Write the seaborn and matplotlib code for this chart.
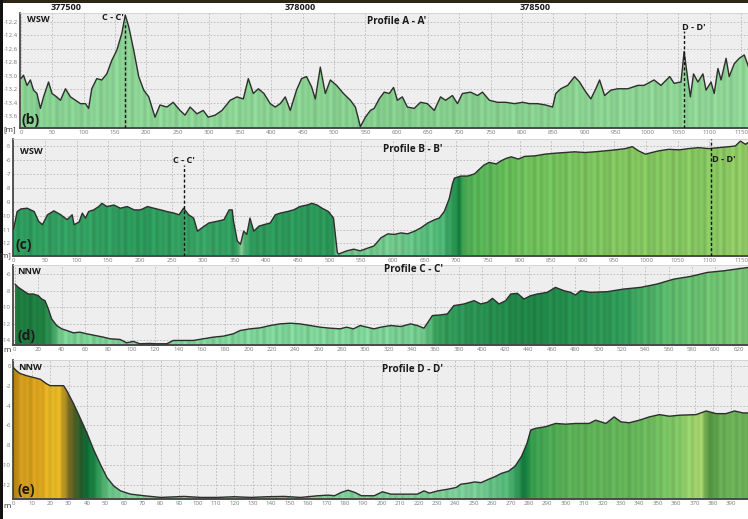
import numpy as np
import matplotlib
matplotlib.use('Agg')
import matplotlib.pyplot as plt
import seaborn as sns
from matplotlib.colors import to_rgb
from matplotlib.patches import Rectangle

sns.set_theme(style='white')
plt.rcParams['font.family'] = ['Open Sans', 'DejaVu Sans']
plt.rcParams['axes.unicode_minus'] = False

# ---------------- data ----------------
top_coords = ["377500", "378000", "378500"]

a_dist = [0, 4, 9.6, 15, 20, 25.5, 31, 36, 44, 49.5, 57, 63, 71, 79, 87, 95, 103, 108, 113, 121, 129, 137,
          145, 153, 161, 166.5, 172, 180, 188, 196, 204, 214, 222, 233, 243, 254, 262, 270, 281, 291, 299,
          310, 321, 334, 345, 355, 363, 371, 379, 388, 398, 406, 414, 422, 430, 440, 448, 456, 464, 470,
          478, 486, 494, 504, 515, 526, 534, 542, 550, 558, 564, 572, 580, 588, 595, 601, 609, 617, 628,
          638, 649, 660, 670, 678, 689, 697, 705, 718, 729, 737, 748, 761, 774, 788, 801, 812, 825, 838,
          849, 854, 862, 873, 884, 892, 900, 910, 918, 924, 932, 942, 953, 969, 985, 995, 1011, 1022,
          1036, 1043, 1054, 1059, 1065, 1069, 1074, 1081, 1089, 1094, 1102, 1107, 1113, 1118, 1126, 1131,
          1139, 1147, 1155, 1162]
a_elev = [-13.04, -12.99, -13.14, -13.06, -13.21, -13.26, -13.48, -13.31, -13.09, -13.26, -13.31, -13.36,
          -13.19, -13.31, -13.36, -13.41, -13.41, -13.48, -13.19, -13.04, -13.06, -12.97, -12.77, -12.62,
          -12.37, -12.10, -12.27, -12.62, -13.01, -13.21, -13.31, -13.61, -13.43, -13.46, -13.39, -13.51,
          -13.58, -13.46, -13.56, -13.51, -13.61, -13.58, -13.51, -13.36, -13.31, -13.34, -13.04, -13.26,
          -13.19, -13.26, -13.41, -13.46, -13.41, -13.31, -13.51, -13.21, -13.04, -13.01, -13.16, -13.34,
          -12.87, -13.26, -13.06, -13.14, -13.26, -13.36, -13.46, -13.75, -13.61, -13.51, -13.48, -13.34,
          -13.24, -13.26, -13.17, -13.36, -13.31, -13.46, -13.48, -13.39, -13.41, -13.51, -13.31, -13.36,
          -13.29, -13.41, -13.26, -13.24, -13.29, -13.24, -13.36, -13.39, -13.39, -13.41, -13.39, -13.41,
          -13.41, -13.43, -13.46, -13.26, -13.19, -13.14, -13.01, -13.09, -13.21, -13.34, -13.19, -13.06,
          -13.29, -13.21, -13.19, -13.19, -13.14, -13.14, -13.06, -13.14, -13.01, -13.11, -13.09, -12.64,
          -13.06, -13.31, -12.97, -13.09, -12.97, -13.21, -13.09, -13.26, -12.89, -13.06, -12.74, -13.01,
          -12.82, -12.74, -12.69, -12.87]

b_dist = [0, 3, 6, 12, 22, 33, 40, 46, 54, 64, 75, 85, 93, 96, 104, 109, 114, 119, 127, 135, 140, 148,
          159, 169, 180, 191, 201, 212, 222, 233, 243, 254, 262, 269, 277, 285, 291, 298, 309, 322, 333,
          341, 346, 348, 354, 359, 364, 369, 374, 380, 388, 396, 406, 414, 422, 433, 443, 453, 464, 472,
          480, 488, 498, 506, 512, 514, 527, 538, 548, 559, 570, 581, 592, 602, 613, 623, 634, 644, 655,
          666, 673, 681, 689, 694, 697, 707, 718, 729, 737, 744, 752, 763, 771, 779, 787, 798, 808, 824,
          840, 856, 872, 887, 903, 919, 935, 951, 967, 978, 988, 999, 1009, 1020, 1036, 1052, 1067, 1083,
          1099, 1115, 1131, 1141, 1149, 1157, 1161]
b_elev = [-11.0, -10.4, -9.71, -9.52, -9.47, -9.71, -10.41, -10.65, -9.94, -9.66, -9.94, -10.29, -9.94,
          -10.65, -10.46, -9.82, -10.18, -9.71, -9.59, -9.35, -9.12, -9.35, -9.24, -9.47, -9.35, -9.59,
          -9.59, -9.35, -9.47, -9.59, -9.71, -9.82, -9.94, -9.47, -9.94, -10.18, -11.12, -10.88, -10.53,
          -10.41, -10.29, -9.59, -9.59, -10.41, -11.82, -12.06, -11.12, -11.35, -10.18, -11.12, -10.76,
          -10.65, -10.53, -9.94, -9.82, -9.71, -9.59, -9.35, -9.24, -9.12, -9.24, -9.47, -9.71, -10.18,
          -12.65, -12.76, -12.53, -12.41, -12.53, -12.35, -12.18, -11.59, -11.31, -11.35, -11.24, -11.31,
          -11.12, -10.88, -10.53, -10.29, -10.18, -9.71, -8.76, -7.71, -7.31, -7.16, -7.16, -7.0, -6.65,
          -6.36, -6.18, -6.29, -6.06, -5.89, -5.78, -5.94, -5.75, -5.71, -5.59, -5.52, -5.47, -5.42,
          -5.47, -5.42, -5.35, -5.28, -5.19, -5.05, -5.35, -5.59, -5.47, -5.35, -5.24, -5.28, -5.19,
          -5.12, -5.19, -5.12, -5.05, -5.0, -4.65, -4.88, -4.76]

c_dist = [0, 2.9, 7.1, 11.4, 15.7, 20, 22.9, 25.7, 28.6, 31.4, 35.7, 40, 44.3, 50, 55.7, 61.4, 68.6, 75.7,
          81.4, 90, 95.7, 101.4, 107, 115.7, 121, 130, 135.7, 144, 152.9, 161.4, 170, 178.6, 187, 192.9,
          201.4, 210, 218.6, 227, 235.7, 244, 252.9, 261.4, 270, 278.6, 284, 290, 295.7, 301.4, 307.6,
          313.4, 322, 330.6, 339, 344.7, 350.4, 357.6, 364.7, 370.4, 376, 384.7, 393.3, 399, 404.7, 409,
          414.7, 420.4, 424.7, 430.4, 436.1, 441.8, 447.5, 456, 463, 470.3, 476, 480.3, 484.5, 493, 507.4,
          521.6, 536, 550, 564.5, 578.8, 593, 607.3, 621.6, 628]
c_elev = [-7.2, -7.6, -8.0, -8.4, -8.4, -8.6, -9.0, -9.2, -10.2, -11.4, -12.2, -12.6, -12.8, -13.08, -13.0,
          -13.2, -13.4, -13.6, -13.8, -13.88, -14.28, -14.12, -14.4, -14.36, -14.4, -14.4, -14.0, -14.0,
          -14.0, -13.8, -13.6, -13.48, -13.2, -12.8, -12.6, -12.48, -12.2, -12.0, -11.92, -12.0, -12.2,
          -12.4, -12.52, -12.6, -12.4, -12.6, -12.2, -12.4, -12.6, -12.4, -12.2, -12.32, -12.0, -12.2,
          -12.52, -11.0, -10.92, -10.8, -9.8, -9.6, -9.2, -9.6, -9.4, -8.92, -9.6, -9.2, -8.4, -8.32,
          -9.0, -8.6, -8.4, -8.2, -7.6, -8.0, -8.2, -8.52, -8.0, -8.2, -8.12, -7.8, -7.6, -7.2, -6.6,
          -6.28, -5.8, -5.6, -5.32, -5.2]

d_dist = [0, 1.8, 3.6, 7.3, 10.9, 14.5, 18.2, 20, 23.6, 27.3, 29, 32.7, 36.4, 40, 43.6, 47.3, 50.9, 54.5,
          58.2, 63.6, 70.9, 80, 92.7, 101.8, 110.9, 120, 129, 138, 147, 156, 165.5, 171, 174.5, 178,
          181.8, 185.5, 189, 196, 200.5, 205, 214, 219.5, 223, 226, 230.5, 236, 240.5, 243, 247, 250.5,
          254, 258, 261.5, 265, 269, 272.5, 276, 279, 281, 283.5, 289, 294.5, 300, 305.5, 312.7, 316.3,
          321.8, 326.3, 330, 334.5, 340, 345.4, 350.9, 356.3, 361.7, 370.8, 376.3, 381.7, 387, 391.7,
          396.3, 400]
d_elev = [-0.17, -0.5, -0.76, -0.99, -1.16, -1.33, -1.82, -1.99, -1.99, -1.99, -2.49, -3.81, -5.3, -6.79,
          -8.45, -9.94, -11.27, -12.1, -12.6, -12.93, -13.09, -13.26, -13.16, -13.26, -13.26, -13.19,
          -13.26, -13.19, -13.16, -13.26, -13.09, -13.03, -13.09, -12.76, -12.53, -12.76, -13.09, -13.09,
          -12.69, -12.93, -12.93, -12.93, -12.6, -12.83, -12.6, -12.43, -12.26, -11.93, -11.83, -11.7,
          -11.77, -11.44, -11.17, -10.84, -10.61, -10.11, -9.12, -7.79, -6.46, -6.3, -6.13, -5.8, -5.87,
          -5.8, -5.8, -5.47, -5.8, -5.14, -5.64, -5.73, -5.47, -5.14, -4.91, -5.07, -4.97, -4.91, -4.54,
          -4.81, -4.81, -4.54, -4.74, -4.74]

# ---------------- figure ----------------
W, H = 748, 519
fig = plt.figure(figsize=(W / 100, H / 100), dpi=100)
fig.patch.set_facecolor('white')


def rect(left, top, right, bottom):
    return [left / W, 1 - bottom / H, (right - left) / W, (bottom - top) / H]


def ftext(px, py, s, **kw):
    fig.text(px / W, 1 - py / H, s, **kw)


def panel(r, dist, elev, xlim, ylim, xticks, yticks, yfmt, stops, amp):
    ax = fig.add_axes(r)
    ax.set_facecolor('#eeeeee')
    ax.set_xlim(xlim)
    ax.set_ylim(ylim)
    ax.set_xticks(xticks)
    ax.set_xticklabels([str(v) for v in xticks])
    ax.set_yticks(yticks)
    ax.set_yticklabels([yfmt.format(v) for v in yticks])
    ax.grid(True, ls=(0, (2, 2)), color='#b8b8b8', lw=0.6)
    ax.set_axisbelow(True)
    ax.tick_params(axis='both', length=0, labelsize=4.4, labelcolor='#7a7a7a', pad=1.5)
    for s in ['top', 'right']:
        ax.spines[s].set_color('#cfcfcf')
        ax.spines[s].set_linewidth(0.6)
    ax.spines['left'].set_color('#3a3a3a')
    ax.spines['left'].set_linewidth(1.2)
    ax.spines['bottom'].set_color('#4a4a4a')
    ax.spines['bottom'].set_linewidth(1.4)

    npx = int(round(r[2] * W))
    xs = np.linspace(xlim[0], xlim[1], npx)
    sx = [p[0] for p in stops]
    cols = np.array([to_rgb(p[1]) for p in stops])
    rgb = np.stack([np.interp(xs, sx, cols[:, k]) for k in range(3)], axis=-1)
    j = np.arange(npx)
    mod = 1 + amp * (0.5 * np.sin(2 * np.pi * j / 6.3) + 0.3 * np.sin(2 * np.pi * j / 10.7 + 1.3)
                     + 0.2 * np.sin(2 * np.pi * j / 23.1 + 0.4))
    rgb = np.clip(rgb * mod[:, None], 0, 1)
    poly = ax.fill_between(dist, elev, ylim[0], color='none', lw=0)
    im = ax.imshow(rgb[None, :, :], extent=[xlim[0], xlim[1], ylim[0], ylim[1]], aspect='auto',
                   origin='lower', zorder=2, interpolation='bilinear')
    im.set_clip_path(poly.get_paths()[0], transform=ax.transData)
    sns.lineplot(x=dist, y=elev, ax=ax, color='#2e2e2e', lw=1.0, zorder=3, sort=False,
                 estimator=None, legend=False)
    ax.set_xlim(xlim)
    ax.set_ylim(ylim)
    ax.set_xlabel('')
    ax.set_ylabel('')
    return ax


def marker(ax, x, y0, y1):
    ax.plot([x, x], [y0, y1], ls=(0, (2.2, 1.6)), color='#111111', lw=1.0, zorder=4)


bold = dict(fontweight='bold', color='#1a1a1a')

# panel (b) : Profile A - A'
axb = panel(rect(20, 13, 748, 128), a_dist, a_elev, (-1.6, 1161), (-13.77, -12.07),
            list(range(0, 1151, 50)), [-12.2, -12.4, -12.6, -12.8, -13.0, -13.2, -13.4, -13.6], '{:.1f}',
            [(0, '#86cf90'), (300, '#8ed496'), (600, '#84cc8c'), (900, '#8ad190'), (1163, '#90d496')], 0.07)
marker(axb, 166.5, -13.77, -12.2)
marker(axb, 1059, -13.77, -12.33)

# panel (c) : Profile B - B'
axc = panel(rect(13, 139, 748, 256), b_dist, b_elev, (-0.5, 1161), (-12.9, -4.5),
            list(range(0, 1151, 50)), [-5, -6, -7, -8, -9, -10, -11, -12], '{:d}',
            [(0, '#2e9a5c'), (100, '#34a062'), (200, '#2c985a'), (300, '#38a364'), (352, '#2f9a5c'),
             (360, '#7cc98f'), (372, '#2f9a5c'), (505, '#2a9658'), (512, '#6cc48a'), (600, '#72c88c'),
             (680, '#4db575'), (705, '#17803f'), (715, '#4fae55'), (800, '#6cbd5a'), (950, '#80c35e'),
             (1100, '#86c560'), (1161, '#90c865')], 0.09)
marker(axc, 269.5, -12.9, -6.4)
marker(axc, 1103, -12.9, -4.5)

# panel (d) : Profile C - C'
axd = panel(rect(13, 265, 748, 345), c_dist, c_elev, (-1.7, 628), (-14.55, -4.9),
            list(range(0, 621, 20)), [-6, -8, -10, -12, -14], '{:d}',
            [(0, '#1e7a3e'), (25, '#1f7f42'), (32, '#3c9f5f'), (40, '#78cf92'), (300, '#80d49a'),
             (350, '#72c88c'), (360, '#3a9f5c'), (380, '#2e9556'), (440, '#1f8446'), (520, '#2f9a58'),
             (560, '#5cb86c'), (600, '#6fc070'), (628, '#78c474')], 0.09)

# panel (e) : Profile D - D'
axe = panel(rect(13, 360, 748, 499), d_dist, d_elev, (-0.2, 399), (-13.42, 0.6),
            list(range(0, 391, 10)), [0, -2, -4, -6, -8, -10, -12], '{:d}',
            [(0, '#a8740f'), (3, '#d09a1c'), (15, '#d9a21f'), (20, '#e6b824'), (25, '#e2b424'),
             (30, '#7a6a22'), (36, '#2a5a2a'), (40, '#0e6a35'), (44, '#1f8a48'), (50, '#5ab878'),
             (60, '#7fd09a'), (250, '#7acb95'), (270, '#4fb474'), (278, '#10773a'), (282, '#3aa050'),
             (300, '#5aae55'), (340, '#66b45a'), (360, '#7fc565'), (374, '#a8d46e'), (378, '#4f8f3e'),
             (385, '#6aae55'), (400, '#6cb058')], 0.07)

# ---------------- texts ----------------
fig.add_artist(Rectangle((0, 1 - 3 / H), 1, 3 / H, transform=fig.transFigure, color='#2b2616', lw=0))
fig.add_artist(Rectangle((0, 0), 3 / W, 1, transform=fig.transFigure, color='#111111', lw=0))
for px, s in zip([66, 300, 535], top_coords):
    ftext(px, 7.5, s, ha='center', va='center', fontsize=6.6, **bold)

ftext(27, 19, 'WSW', ha='left', va='center', fontsize=6.6, **bold)
ftext(113, 17, "C - C'", ha='center', va='center', fontsize=6.6, **bold)
ftext(397, 22, "Profile A - A'", ha='center', va='center', fontsize=7.2, **bold)
ftext(694, 27, "D - D'", ha='center', va='center', fontsize=6.6, **bold)
ftext(22, 120, '(b)', ha='left', va='center', fontsize=10, **bold)
ftext(3, 130, '[m]', ha='left', va='center', fontsize=5.8, color='#333333')

ftext(20, 151, 'WSW', ha='left', va='center', fontsize=6.6, **bold)
ftext(184, 161, "C - C'", ha='center', va='center', fontsize=6.6, **bold)
ftext(413, 150, "Profile B - B'", ha='center', va='center', fontsize=7.2, **bold)
ftext(712, 159, "D - D'", ha='left', va='center', fontsize=6.6, **bold)
ftext(15, 245, '(c)', ha='left', va='center', fontsize=10, **bold)
ftext(11, 256, '[m]', ha='right', va='center', fontsize=5.2, color='#333333')

ftext(17, 271, 'NNW', ha='left', va='center', fontsize=6.6, **bold)
ftext(413, 270, "Profile C - C'", ha='center', va='center', fontsize=7.2, **bold)
ftext(17, 336, '(d)', ha='left', va='center', fontsize=10, **bold)
ftext(11, 351, 'm', ha='right', va='center', fontsize=5.8, color='#333333')

ftext(18, 367, 'NNW', ha='left', va='center', fontsize=6.6, **bold)
ftext(413, 370, "Profile D - D'", ha='center', va='center', fontsize=7.2, **bold)
ftext(17, 490, '(e)', ha='left', va='center', fontsize=10, **bold)
ftext(11, 507, 'm', ha='right', va='center', fontsize=5.8, color='#333333')

fig.savefig('out.png', dpi=100, facecolor='white')
